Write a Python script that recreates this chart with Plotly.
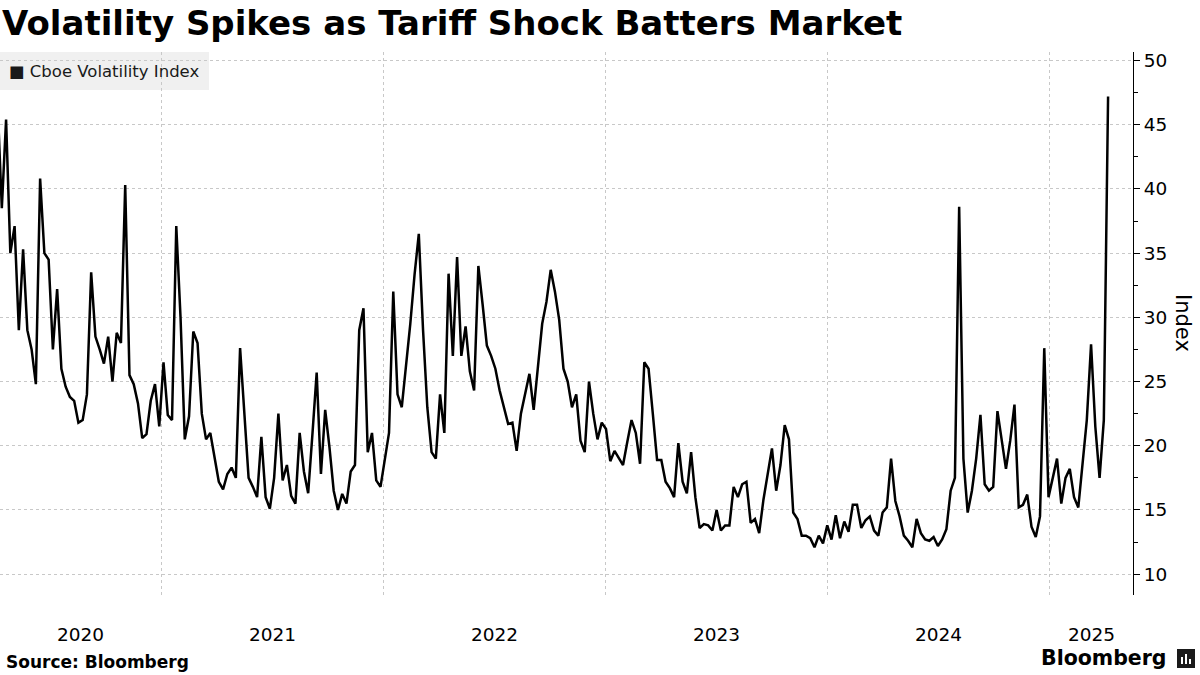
import pandas as pd
import plotly.graph_objs as go

# weekly closes of the Cboe Volatility Index
week_start = "2020-04-06"
vix = [
    46.7, 38.5, 45.4, 35.0, 37.1, 29.0, 35.3, 29.0, 27.5, 24.8,
    40.8, 35.0, 34.5, 27.5, 32.2, 26.0, 24.6, 23.8, 23.5, 21.8,
    22.0, 24.0, 33.5, 28.5, 27.5, 26.4, 28.5, 25.0, 28.8, 28.0,
    40.3, 25.5, 24.8, 23.3, 20.6, 20.9, 23.5, 24.8, 21.5, 26.5,
    22.4, 22.0, 37.1, 30.0, 20.5, 22.3, 28.9, 28.0, 22.5, 20.5,
    21.0, 19.2, 17.2, 16.6, 17.8, 18.3, 17.5, 27.6, 22.1, 17.5,
    16.8, 16.0, 20.7, 16.0, 15.1, 17.5, 22.5, 17.3, 18.5, 16.1,
    15.5, 21.0, 18.0, 16.3, 20.9, 25.7, 17.8, 22.8, 19.9, 16.5,
    15.0, 16.25, 15.5, 18.0, 18.5, 29.0, 30.7, 19.5, 21.0, 17.3,
    16.8, 19.0, 21.0, 32.0, 24.0, 23.0, 26.0, 29.5, 33.3, 36.5,
    29.0, 23.0, 19.5, 19.0, 24.0, 21.0, 33.4, 27.0, 34.7, 27.0,
    29.3, 25.8, 24.3, 34.0, 31.0, 27.8, 27.0, 26.0, 24.3, 23.1,
    21.7, 21.8, 19.6, 22.5, 24.0, 25.6, 22.8, 26.2, 29.5, 31.2,
    33.7, 32.0, 29.8, 26.0, 25.0, 23.0, 24.0, 20.4, 19.5, 25.0,
    22.5, 20.5, 21.8, 21.3, 18.8, 19.6, 19.0, 18.5, 20.3, 22.0,
    21.0, 18.6, 26.5, 26.0, 22.5, 18.9, 18.9, 17.2, 16.7, 16.0,
    20.2, 17.2, 16.3, 19.5, 16.0, 13.6, 13.9, 13.8, 13.4, 15.0,
    13.4, 13.8, 13.8, 16.8, 16.0, 17.0, 17.2, 14.0, 14.3, 13.2,
    15.8, 17.8, 19.8, 16.5, 18.5, 21.6, 20.5, 14.8, 14.3, 13.0,
    13.0, 12.8, 12.1, 13.0, 12.4, 13.8, 12.7, 14.6, 12.8, 14.1,
    13.3, 15.4, 15.4, 13.6, 14.2, 14.5, 13.4, 13.0, 14.8, 15.2,
    19.0, 15.7, 14.5, 13.0, 12.6, 12.1, 14.3, 13.2, 12.7, 12.6,
    12.9, 12.2, 12.7, 13.5, 16.5, 17.5, 38.6, 19.0, 14.8, 16.5,
    19.0, 22.4, 17.0, 16.5, 16.8, 22.7, 20.5, 18.2, 20.4, 23.2,
    15.2, 15.4, 16.2, 13.7, 12.9, 14.5, 27.6, 16.0, 17.5, 19.0,
    15.5, 17.5, 18.2, 16.0, 15.2, 18.6, 22.0, 27.9, 21.5, 17.5,
    22.0, 47.2,
]
dates = pd.date_range(week_start, periods=len(vix), freq="7D")

years = [2020, 2021, 2022, 2023, 2024, 2025]
y_ticks = [10, 15, 20, 25, 30, 35, 40, 45, 50]

x_range = [pd.Timestamp("2020-04-10"), pd.Timestamp("2025-05-18")]
y_range = [8.38, 50.66]

fig = go.Figure()

fig.add_trace(go.Scatter(
    x=dates,
    y=vix,
    mode="lines",
    line=dict(color="#000000", width=2.5),
    name="Cboe Volatility Index",
    showlegend=False,
    hoverinfo="x+y",
))

grid = dict(color="#c8c8c8", dash="dot")

fig.update_layout(
    width=1200,
    height=675,
    margin=dict(l=0, r=67, t=52, b=80),
    paper_bgcolor="white",
    plot_bgcolor="white",
    font=dict(family="DejaVu Sans", color="#000000"),
    xaxis=dict(
        type="date",
        range=x_range,
        tickmode="array",
        tickvals=[pd.Timestamp(f"{y}-01-01") for y in years[1:]],
        showticklabels=False,
        ticks="",
        showgrid=True,
        gridcolor=grid["color"],
        griddash=grid["dash"],
        gridwidth=1,
        showline=False,
        zeroline=False,
    ),
    yaxis=dict(
        side="right",
        range=y_range,
        tickmode="array",
        tickvals=y_ticks,
        ticks="outside",
        ticklen=6,
        tickwidth=1.3,
        tickcolor="#000000",
        tickfont=dict(size=18.5, color="#000000"),
        showline=True,
        linecolor="#000000",
        linewidth=1.3,
        showgrid=True,
        gridcolor=grid["color"],
        griddash=grid["dash"],
        gridwidth=1,
        zeroline=False,
        minor=dict(tickmode="array", tickvals=[v + 2.5 for v in y_ticks[:-1]],
                   ticks="outside", ticklen=4, tickwidth=1.2, tickcolor="#000000", showgrid=False),
    ),
)

# year labels centred on the visible part of each year
annotations = []
for y in years:
    start = max(pd.Timestamp(f"{y}-01-01"), x_range[0])
    end = min(pd.Timestamp(f"{y + 1}-01-01"), x_range[1])
    mid = start + (end - start) / 2
    annotations.append(dict(
        x=mid, y=(595 - 634) / 543, xref="x", yref="paper",
        text=str(y), showarrow=False, xanchor="center", yanchor="middle",
        font=dict(size=18.5, color="#000000"),
    ))

annotations += [
    dict(x=0, y=(595 - 23) / 543, xref="paper", yref="paper", xanchor="left", yanchor="middle",
         text="<b>Volatility Spikes as Tariff Shock Batters Market</b>", showarrow=False,
         font=dict(size=34, color="#000000")),
    dict(x=7 / 1133, y=(595 - 71) / 543, xref="paper", yref="paper", xanchor="left", yanchor="middle",
         text="■ Cboe Volatility Index", showarrow=False,
         font=dict(size=16.5, color="#1a1a1a")),
    dict(x=1183 / 1133, y=(595 - 323) / 543, xref="paper", yref="paper", xanchor="center", yanchor="middle",
         text="Index", textangle=90, showarrow=False,
         font=dict(size=21, color="#000000")),
    dict(x=4 / 1133, y=(595 - 662) / 543, xref="paper", yref="paper", xanchor="left", yanchor="middle",
         text="<b>Source: Bloomberg</b>", showarrow=False,
         font=dict(size=17, color="#000000")),
    dict(x=1169 / 1133, y=(595 - 658) / 543, xref="paper", yref="paper", xanchor="right", yanchor="middle",
         text="<b>Bloomberg</b>", showarrow=False,
         font=dict(size=20.5, color="#000000")),
]
fig.update_layout(annotations=annotations)

# legend box
fig.add_shape(type="rect", xref="paper", yref="paper", layer="below",
              x0=0, x1=209 / 1133, y0=(595 - 90) / 543, y1=1,
              fillcolor="#f0f0f0", line=dict(width=0))

# logo mark: dark tile with three small white bars
def px_x(v):
    return v / 1133


def px_y(v):
    return (595 - v) / 543


fig.add_shape(type="rect", xref="paper", yref="paper",
              x0=px_x(1177), x1=px_x(1195), y0=px_y(668), y1=px_y(649),
              fillcolor="#1a1a1a", line=dict(width=0))
for bx, top in [(1181, 657), (1185, 654), (1189, 659)]:
    fig.add_shape(type="rect", xref="paper", yref="paper",
                  x0=px_x(bx), x1=px_x(bx + 2), y0=px_y(664), y1=px_y(top),
                  fillcolor="white", line=dict(width=0))

# page has a default body margin; drop it so the figure sits at the window corner
fig.write_html("out.html", config={"displayModeBar": False},
               post_script="document.body.style.margin='0px';")
